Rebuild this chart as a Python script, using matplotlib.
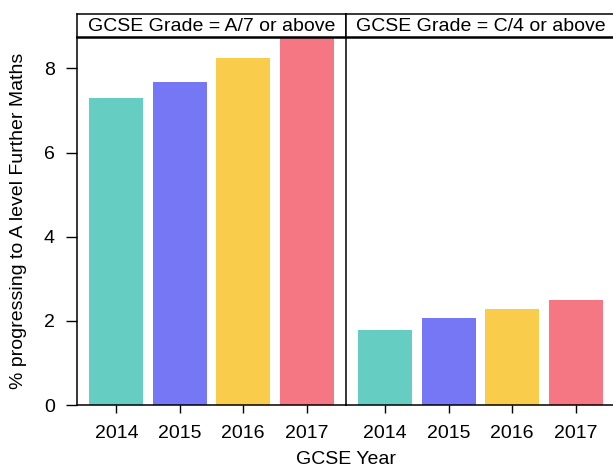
import matplotlib.pyplot as plt
import numpy as np

plt.rcParams['font.family'] = ['Liberation Sans', 'DejaVu Sans']

years = ['2014', '2015', '2016', '2017']
panels = ['GCSE Grade = A/7 or above', 'GCSE Grade = C/4 or above']
pct_a7 = [7.29, 7.67, 8.24, 8.80]
pct_c4 = [1.78, 2.07, 2.28, 2.49]
colours = ['#5ecbc0', '#6e70f5', '#f9ca42', '#f6707d']

fig = plt.figure(figsize=(6.13, 4.71), dpi=100)

# panel geometry in figure fractions (right panel runs off the edge like the original)
bottom, height = 0.140, 0.781
left0, width = 0.1256, 0.4388
strip_h = 0.0488

x = np.arange(len(years))
for i, (title, vals) in enumerate(zip(panels, [pct_a7, pct_c4])):
    ax = fig.add_axes([left0 + i * width, bottom, width, height])
    ax.bar(x, vals, width=0.85, color=colours, alpha=0.95)
    ax.set_xlim(-0.62, 3.62)
    ax.set_ylim(0, 8.74)
    ax.set_xticks(x)
    ax.set_xticklabels(years, fontsize=14)
    ax.tick_params(axis='x', length=6, width=1, pad=8)
    for s in ['top', 'right']:
        ax.spines[s].set_visible(False)
    for s in ['left', 'bottom']:
        ax.spines[s].set_linewidth(1.1)
    if i == 0:
        ax.set_yticks([0, 2, 4, 6, 8])
        ax.tick_params(axis='y', labelsize=14, length=8, width=1, pad=8)
        ax.set_ylabel('% progressing to A level Further Maths', fontsize=14, labelpad=12)
    else:
        ax.set_yticks([])

    strip = fig.add_axes([left0 + i * width, bottom + height, width, strip_h])
    strip.set_xticks([])
    strip.set_yticks([])
    for s in strip.spines.values():
        s.set_linewidth(1.1)
    strip.spines['bottom'].set_linewidth(1.8)
    strip.text(0.5, 0.45, title, ha='center', va='center', fontsize=14,
               transform=strip.transAxes)

fig.text(left0 + width, 0.025, 'GCSE Year', ha='center', va='center', fontsize=14)

fig.savefig('out.png', dpi=100)
